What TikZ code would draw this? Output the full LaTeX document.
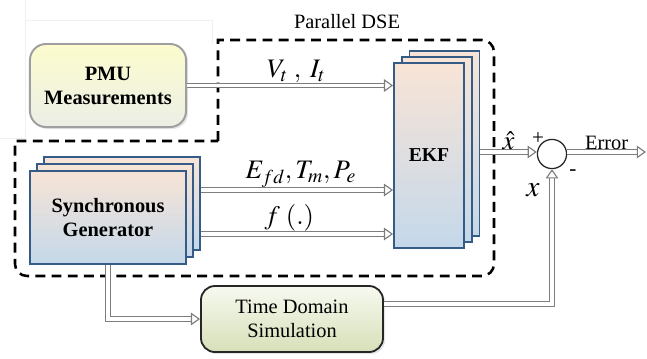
\documentclass[tikz,border=0pt]{standalone}
\usepackage{mathptmx}
\usepackage[no-math]{fontspec}
\setmainfont{Liberation Serif}
\usetikzlibrary{arrows.meta, positioning, calc, shadows}
\definecolor{pmutop}{RGB}{252,252,206}
\definecolor{pmubot}{RGB}{236,238,230}
\definecolor{stacktop}{RGB}{248,228,214}
\definecolor{stackbot}{RGB}{196,216,234}
\definecolor{stackline}{RGB}{52,92,134}
\definecolor{tdstop}{RGB}{247,249,240}
\definecolor{tdsbot}{RGB}{214,224,184}
\definecolor{pipeline}{RGB}{125,125,125}

\begin{document}
\begin{tikzpicture}[x=0.025cm, y=-0.025cm,
    box/.style={rectangle, align=center, inner sep=0pt},
    pmubox/.style={box, rounded corners=0.4cm, draw=gray!75, line width=1.4pt,
                top color=pmutop, bottom color=pmubot,
                drop shadow={shadow xshift=1.5pt, shadow yshift=-1.5pt, opacity=0.2},
                minimum width=3.9cm, minimum height=2.075cm,
                font=\fontsize{14.5}{17}\selectfont\bfseries},
    stackbox/.style={box, draw=stackline, line width=1.3pt,
                top color=stacktop, bottom color=stackbot},
    ekfsize/.style={minimum width=1.75cm, minimum height=4.625cm},
    sgsize/.style={minimum width=3.9cm, minimum height=2.325cm},
    tdsbox/.style={box, rounded corners=0.35cm, draw=black!85, line width=1.3pt,
                top color=tdstop, bottom color=tdsbot,
                drop shadow={shadow xshift=1.5pt, shadow yshift=-1.5pt, opacity=0.2},
                minimum width=4.55cm, minimum height=1.65cm,
                font=\fontsize{14.5}{17.5}\selectfont},
    pipe/.style={draw=pipeline, line width=0.8pt, double=white, double distance=2.2pt,
                -{Triangle[open, length=6.5pt, width=9pt, fill=white]}},
    dsebox/.style={line width=1.8pt, dash pattern=on 7pt off 4.5pt},
    mathlbl/.style={font=\fontsize{19}{21}\selectfont, inner sep=1.5pt},
    txtlbl/.style={font=\fontsize{14.5}{17}\selectfont}]

    \useasboundingbox (0,0) rectangle (647,358);

    % faint frame lines
    \draw[gray!12, line width=0.5pt] (0,138) -- (25,138) -- (25,0);
    \draw[gray!12, line width=0.5pt] (25,20) -- (212,20) -- (212,44);

    % Parallel DSE region
    \draw[dsebox] (218,141) -- (218,40) -- (482,40)
        arc[start angle=-90, end angle=0, radius=12] -- (494,264)
        arc[start angle=0, end angle=90, radius=12] -- (27,276)
        arc[start angle=90, end angle=180, radius=12] -- (15,141) -- cycle;
    \node[txtlbl] (dse) at (347,22) {Parallel DSE};

    % Components
    \node[pmubox] (pmu) at (108,85.5) {PMU\\Measurements};

    \node[stackbox, ekfsize] (ekf3) at (444.5,143.5) {};
    \node[stackbox, ekfsize] (ekf2) at (437,149.5) {};
    \node[stackbox, ekfsize, font=\fontsize{14}{16}\selectfont\bfseries] (ekf) at (429,155.5) {EKF};

    \node[stackbox, sgsize] (sg3) at (122,203.5) {};
    \node[stackbox, sgsize] (sg2) at (115,210.5) {};
    \node[stackbox, sgsize, font=\fontsize{14.5}{17}\selectfont\bfseries] (sg) at (108,217.5) {Synchronous\\Generator};

    \node[tdsbox] (tds) at (292,319) {Time Domain\\Simulation};

    \node[circle, draw=black!85, line width=0.9pt, fill=white, minimum size=0.73cm, inner sep=0pt] (sum) at (552,154) {};
    \coordinate (errend) at (646,152);

    % Arrows
    \draw[pipe] (pmu.east) -- node[mathlbl, above, pos=0.53] {$V_t\;,\;I_t$} (pmu.east -| ekf.west);
    \draw[pipe] (sg3.east |- 0,190) -- node[mathlbl, above, pos=0.52] {$E_{fd}, T_m, P_e$} (ekf.west |- 0,190);
    \draw[pipe] (sg3.east |- 0,234) -- node[mathlbl, above, pos=0.46] {$f\;(.)$} (ekf.west |- 0,234);
    \draw[pipe] (ekf3.east |- 0,152) -- node[mathlbl, above, pos=0.5] {$\hat{x}$} (sum.west |- 0,152);
    \draw[pipe] (sum.east |- 0,152) -- node[txtlbl, above, inner sep=1pt] {Error} (errend);
    \draw[pipe] (sg.south) |- (tds.west);
    \draw[pipe] ([yshift=0.375cm]tds.east) -| (sum.south);

    % Signs
    \node[font=\fontsize{15}{17}\selectfont, inner sep=0pt] (plus) at (538,139) {+};
    \node[font=\fontsize{15}{17}\selectfont, inner sep=0pt] (minus) at (573,173) {-};
    \node[font=\fontsize{21}{23}\selectfont, inner sep=0pt] (xlbl) at (533,190) {$x$};
\end{tikzpicture}
\end{document}
